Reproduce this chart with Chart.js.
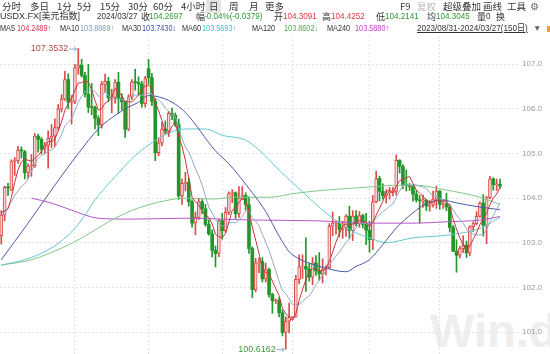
<!DOCTYPE html>
<html><head><meta charset="utf-8">
<script src="https://cdn.jsdelivr.net/npm/chart.js@4.4.1/dist/chart.umd.min.js"></script>
<style>
html,body{margin:0;padding:0;background:#fff;width:550px;height:354px;overflow:hidden;}
.t{position:absolute;white-space:nowrap;font-family:"Liberation Sans","Noto Sans CJK SC",sans-serif;font-size:8px;line-height:11px;color:#333;z-index:3}
.c{font-size:9px;font-family:"Noto Sans CJK SC",sans-serif}
.n{font-size:9px;transform:scaleX(0.9);transform-origin:0 50%}
.r1{top:0;font-size:9.5px;font-family:"Noto Sans CJK SC",sans-serif;line-height:13px}
.r2{top:11px}
.r3{top:23px;font-size:8.5px;transform:scaleX(0.86);transform-origin:0 50%}
.red{color:#dd3b3b}.grn{color:#2f9a35}
#sel{position:absolute;left:206px;top:0;width:15px;height:13px;background:#e3e3e3;z-index:2}
#wm{position:absolute;left:430px;top:303px;font:bold 47px "Liberation Sans",sans-serif;color:#eeeeee;z-index:0}
#cv{position:absolute;left:0;top:0;z-index:1}
</style></head><body>
<div id="sel"></div>
<div class="t r1" style="left:2px">分时</div>
<div class="t r1" style="left:30px">多日</div>
<div class="t r1" style="left:57px">1分</div>
<div class="t r1" style="left:77px">5分</div>
<div class="t r1" style="left:100px">15分</div>
<div class="t r1" style="left:128px">30分</div>
<div class="t r1" style="left:153px">60分</div>
<div class="t r1" style="left:181px">4小时</div>
<div class="t r1" style="left:209px">日</div>
<div class="t r1" style="left:229px">周</div>
<div class="t r1" style="left:249px">月</div>
<div class="t r1" style="left:265px">更多</div>
<div class="t r1" style="left:400px">F9</div>
<div class="t r1" style="left:417px;color:#bbb">复权</div>
<div class="t r1" style="left:443px">超级叠加</div>
<div class="t r1" style="left:483px">画线</div>
<div class="t r1" style="left:507px">工具</div>
<div class="t r1" style="left:530px;color:#666">⚙</div>

<div class="t r2" style="left:0px;font-size:9px">USDX.FX[美元指数]</div>
<div class="t r2 n" style="left:97px">2024/03/27</div>
<div class="t r2 c" style="left:141px">收</div>
<div class="t r2 n grn" style="left:149px">104.2697</div>
<div class="t r2 c" style="left:196px">幅</div>
<div class="t r2 n grn" style="left:204px">-0.04%(-0.0379)</div>
<div class="t r2 c" style="left:274px">开</div>
<div class="t r2 n red" style="left:283px">104.3091</div>
<div class="t r2 c" style="left:322px">高</div>
<div class="t r2 n red" style="left:331px">104.4252</div>
<div class="t r2 c" style="left:376px">低</div>
<div class="t r2 n grn" style="left:385px">104.2141</div>
<div class="t r2 c" style="left:427px">均</div>
<div class="t r2 n grn" style="left:436px">104.3045</div>
<div class="t r2 c" style="left:477px">量</div>
<div class="t r2 n" style="left:486px">0</div>
<div class="t r2 c" style="left:496px">换</div>

<div class="t r3" style="left:0px">MA5</div>
<div class="t r3" style="left:17px;color:#cc3350">104.2489↑</div>
<div class="t r3" style="left:60px">MA10</div>
<div class="t r3" style="left:80px;color:#7e9cc4">103.8869↑</div>
<div class="t r3" style="left:122px">MA30</div>
<div class="t r3" style="left:142px;color:#3d4fa6">103.7430↓</div>
<div class="t r3" style="left:182px">MA60</div>
<div class="t r3" style="left:202px;color:#3bbcc6">103.5693↑</div>
<div class="t r3" style="left:252px">MA120</div>
<div class="t r3" style="left:284px;color:#4cab4c">103.8602↓</div>
<div class="t r3" style="left:327px">MA240</div>
<div class="t r3" style="left:355px;color:#c040c4">103.5880↑</div>
<div class="t r3" style="left:417px;text-decoration:underline;font-size:9px;transform:scaleX(0.9)">2023/08/31-2024/03/27(150日)</div>
<div class="t r3" style="left:533px;color:#666;transform:none">▼</div>
<div style="position:absolute;left:547px;top:26px;width:3px;height:6px;background:#f0a030;z-index:3"></div>

<div id="wm">Win.d</div>
<canvas id="cv" width="550" height="354"></canvas>
<script>
// ---- data (USDX.FX daily, 2023/08/31 - 2024/03/27) ----
const opens = [103.16,103.62,104.24,104.18,104.82,104.84,105.08,105.04,104.57,104.72,
104.73,105.39,105.32,105.10,105.18,105.34,105.39,105.58,106.00,106.22,
106.66,106.15,106.17,106.92,106.98,106.75,106.33,106.04,106.03,105.79,
105.64,106.55,106.62,106.25,106.26,106.60,106.24,106.16,105.54,106.27,
106.60,106.59,106.56,106.12,106.90,106.70,106.17,105.02,105.24,105.55,
105.50,105.90,105.86,105.65,104.05,104.33,104.35,103.92,103.44,103.57,
103.92,103.76,103.41,103.20,102.83,102.76,103.50,103.27,103.68,104.10,
104.12,103.65,104.00,104.06,103.85,102.87,101.95,102.55,102.58,102.19,
102.40,101.84,101.70,101.71,101.43,100.99,101.24,101.33,101.33,102.18,
102.46,102.47,102.41,102.23,102.55,102.37,102.30,102.40,102.44,103.37,
103.44,103.44,103.30,103.33,103.60,103.27,103.60,103.43,103.61,103.41,
103.28,103.07,103.92,104.44,104.15,104.06,104.12,104.12,104.15,104.85,
104.71,104.29,104.28,104.26,104.09,103.96,103.94,103.95,103.82,103.85,
103.98,104.16,103.86,103.86,103.80,103.34,102.81,102.72,102.87,102.95,
102.77,103.36,103.43,103.59,103.89,103.39,104.01,104.43,104.30,104.3091];
const highs = [103.72,104.27,104.33,104.86,104.91,105.16,105.15,105.07,104.77,104.98,
105.45,105.43,105.36,105.25,105.51,105.65,105.78,106.10,106.32,106.84,
106.79,106.30,107.00,107.3532,107.11,106.82,107.00,106.57,106.07,105.85,
106.62,106.78,106.71,106.44,106.66,106.82,106.34,106.17,106.32,106.66,
106.89,106.72,106.62,106.73,107.11,106.80,106.23,105.35,105.70,105.73,
105.94,106.02,105.91,105.77,104.43,104.58,104.45,103.96,103.69,104.00,
103.97,103.86,103.51,103.29,102.93,103.53,103.66,103.79,104.14,104.19,
104.14,104.26,104.26,104.12,104.03,102.91,102.65,102.66,102.67,102.54,
102.43,101.87,101.74,101.77,101.50,101.34,101.65,101.35,102.27,102.73,
102.73,103.11,102.54,102.67,102.71,102.78,102.64,102.49,103.43,103.69,
103.49,103.59,103.48,103.63,103.82,103.72,103.72,103.70,103.64,103.66,
103.48,104.06,104.60,104.49,104.32,104.19,104.24,104.24,104.97,104.86,
104.75,104.63,104.33,104.28,104.17,104.06,104.07,103.98,103.95,104.16,
104.27,104.17,103.96,104.11,103.86,103.39,103.07,102.92,103.16,103.04,
103.38,103.47,103.70,103.92,104.08,104.04,104.49,104.46,104.43,104.4252];
const lows = [102.97,103.49,104.06,104.17,104.51,104.78,104.90,104.43,104.44,104.49,
104.69,105.03,104.99,104.99,104.67,105.13,105.16,105.52,105.93,106.19,
106.00,105.66,106.12,106.78,106.71,106.27,105.92,105.87,105.55,105.40,
105.57,106.38,106.16,105.91,106.13,105.90,105.97,105.36,105.51,106.21,
106.42,106.32,106.04,106.04,106.55,106.07,104.84,104.95,105.17,105.44,
105.38,105.76,105.60,103.97,103.86,104.16,103.82,103.35,103.18,103.52,
103.65,103.37,103.17,102.68,102.46,102.69,103.08,103.23,103.63,103.90,
103.54,103.57,103.97,103.73,102.76,101.77,101.90,102.33,102.12,102.12,
101.78,101.42,101.64,101.34,100.91,100.6162,100.98,101.28,101.33,102.08,
102.20,101.91,102.14,102.06,102.27,102.16,102.10,102.28,102.42,103.16,
103.19,103.13,103.10,103.14,103.09,103.05,103.38,103.35,103.33,102.96,
102.79,102.85,103.90,103.94,103.98,103.89,103.98,104.05,104.07,104.56,
104.21,104.16,104.17,103.93,103.91,103.44,103.79,103.72,103.71,103.80,
103.77,103.75,103.77,103.72,103.24,102.80,102.34,102.66,102.78,102.67,
102.71,103.25,103.40,103.57,103.15,102.98,103.98,104.18,104.17,104.2141];
const closes = [103.62,104.24,104.23,104.82,104.84,105.08,105.06,104.57,104.72,104.73,
105.39,105.32,105.10,105.18,105.34,105.39,105.58,106.00,106.22,106.66,
106.15,106.17,106.92,106.98,106.75,106.33,106.04,106.03,105.79,105.64,
106.55,106.62,106.25,106.26,106.60,106.24,106.16,105.54,106.27,106.60,
106.59,106.56,106.12,106.68,106.70,106.17,105.02,105.24,105.55,105.50,
105.90,105.86,105.65,104.05,104.33,104.35,103.92,103.44,103.57,103.92,
103.76,103.41,103.20,102.83,102.76,103.50,103.27,103.68,104.10,104.12,
103.65,104.00,104.06,103.85,102.87,101.95,102.55,102.58,102.19,102.40,
101.84,101.70,101.71,101.43,100.99,101.24,101.33,101.33,102.18,102.46,
102.47,102.41,102.23,102.55,102.37,102.30,102.40,102.44,103.37,103.44,
103.44,103.30,103.33,103.60,103.27,103.60,103.43,103.61,103.41,103.28,
103.07,103.92,104.44,104.15,104.06,104.12,104.12,104.15,104.85,104.71,
104.29,104.28,104.26,104.09,103.96,103.94,103.95,103.82,103.85,103.98,
104.16,103.86,103.86,103.80,103.34,102.81,102.72,102.87,102.95,102.77,
103.36,103.43,103.59,103.89,103.39,104.01,104.43,104.30,104.31,104.2697];

// moving averages
const ma5 = [103.68,103.71,103.76,104.01,104.35,104.64,104.81,104.87,104.85,104.83,
104.89,104.95,105.05,105.14,105.27,105.27,105.32,105.50,105.71,105.97,
106.12,106.24,106.42,106.58,106.59,106.63,106.60,106.43,106.19,105.97,
106.01,106.13,106.17,106.26,106.46,106.39,106.30,106.16,106.16,106.16,
106.23,106.31,106.43,106.51,106.53,106.45,106.14,105.96,105.74,105.50,
105.44,105.61,105.69,105.39,105.16,104.85,104.46,104.02,103.92,103.84,
103.72,103.62,103.57,103.42,103.19,103.14,103.11,103.21,103.46,103.73,
103.76,103.91,103.99,103.94,103.69,103.35,103.06,102.76,102.43,102.33,
102.31,102.14,101.97,101.82,101.53,101.41,101.34,101.26,101.41,101.71,
101.95,102.17,102.35,102.42,102.41,102.37,102.37,102.41,102.58,102.79,
103.02,103.20,103.38,103.42,103.39,103.42,103.45,103.50,103.46,103.47,
103.36,103.46,103.62,103.77,103.93,104.14,104.18,104.12,104.26,104.39,
104.42,104.46,104.48,104.33,104.18,104.11,104.04,103.95,103.90,103.91,
103.95,103.93,103.94,103.93,103.80,103.53,103.31,103.11,102.94,102.82,
102.93,103.08,103.22,103.41,103.53,103.66,103.86,104.00,104.09,104.2489];
const ma10 = [103.61,103.69,103.79,103.91,104.06,104.16,104.26,104.32,104.43,104.59,
104.77,104.88,104.96,105.00,105.05,105.08,105.14,105.28,105.43,105.62,
105.70,105.78,105.96,106.15,106.28,106.38,106.42,106.43,106.39,106.28,
106.32,106.37,106.30,106.23,106.22,106.20,106.22,106.17,106.21,106.31,
106.31,106.31,106.30,106.34,106.35,106.34,106.23,106.20,106.13,106.02,
105.95,105.88,105.83,105.57,105.33,105.15,105.04,104.86,104.66,104.50,
104.29,104.04,103.80,103.67,103.52,103.43,103.37,103.39,103.44,103.46,
103.45,103.51,103.60,103.70,103.71,103.56,103.49,103.38,103.19,103.01,
102.83,102.60,102.37,102.13,101.93,101.86,101.74,101.62,101.62,101.62,
101.68,101.76,101.81,101.92,102.06,102.16,102.27,102.38,102.50,102.60,
102.70,102.79,102.90,103.00,103.09,103.22,103.33,103.44,103.44,103.43,
103.39,103.46,103.56,103.62,103.70,103.75,103.82,103.87,104.02,104.16,
104.28,104.32,104.30,104.30,104.29,104.27,104.25,104.22,104.12,104.05,
104.03,103.99,103.95,103.92,103.86,103.74,103.62,103.53,103.44,103.31,
103.23,103.20,103.17,103.18,103.18,103.30,103.47,103.61,103.75,103.8869];
const ma30Idx = [0,8,16,23,29,37,41,44,47,51,55,64,68,75,79,83,86,89,91,97,103,106,110,114,118,123,127,132,135,139,143,149];
const ma30Val = [102.62,103.44,104.29,105.00,105.55,106.00,106.15,106.30,106.27,106.15,105.92,105.06,104.77,104.12,103.70,103.15,102.80,102.64,102.57,102.43,102.35,102.47,102.62,102.96,103.33,103.67,103.88,103.96,103.91,103.85,103.80,103.743];
const ma60Idx = [0,7,14,20,24,28,33,42,55,61,66,73,77,83,90,97,102,106,110,115,123,133,143,149];
const ma60Val = [102.50,102.62,102.84,103.17,103.51,103.96,104.40,105.08,105.55,105.55,105.41,105.30,105.08,104.63,104.14,103.67,103.40,103.22,103.11,103.00,103.11,103.17,103.32,103.5693];
const ma120Idx = [0,9,20,27,34,41,47,55,63,70,80,88,97,110,119,124,133,138,143,149];
const ma120Val = [102.50,102.62,102.95,103.24,103.55,103.78,103.91,104.00,103.98,104.02,104.02,104.11,104.18,104.25,104.29,104.29,104.18,104.11,104.02,103.8602];
const ma240Idx = [9,15,21,29,39,55,75,95,110,124,133,143,149];
const ma240Val = [104.00,103.89,103.73,103.55,103.53,103.55,103.51,103.49,103.44,103.44,103.47,103.51,103.588];
const yTicks = [101,102,103,104,105,106,107];
const monthStarts = [22,44,66,87,110,131];

const UP='#dc4a4a', DN='#23962a';
const idx = closes.map((_,i)=>i);
const up = i => closes[i] >= opens[i];
const series = (I,V)=>I.map((x,k)=>({x:x,y:V[k]}));

const bodies = {type:'bar',order:2,grouped:false,barThickness:3,minBarLength:1,
  data: idx.map(i=>({x:i,y:[opens[i],closes[i]]})),
  backgroundColor: idx.map(i=>up(i)?'#f7d6d6':DN),
  borderColor: idx.map(i=>up(i)?UP:DN),
  borderWidth: idx.map(i=>up(i)?1:0),
  borderSkipped:false};
const wicks = {type:'bar',order:3,grouped:false,barThickness:1,
  data: idx.map(i=>({x:i,y:[lows[i],highs[i]]})),
  backgroundColor: idx.map(i=>up(i)?UP:DN), borderWidth:0};
const line = (data,color,smooth)=>({type:'line',order:1,data:data,borderColor:color,borderWidth:1,
  pointRadius:0,fill:false,cubicInterpolationMode:smooth?'monotone':'default',tension:0});

const marks = {id:'marks',afterDatasetsDraw(chart){
  const {ctx,scales:{x,y}} = chart;
  const hiI = highs.indexOf(Math.max(...highs)), loI = lows.indexOf(Math.min(...lows));
  ctx.save();
  ctx.font='9px "Liberation Sans", sans-serif';ctx.textBaseline='middle';ctx.textAlign='right';
  const draw=(i,v,col)=>{
    const px=x.getPixelForValue(i), py=y.getPixelForValue(v);
    ctx.fillStyle=col; ctx.fillText(v.toFixed(4),px-10,py);
    ctx.strokeStyle='#8fb0c8';ctx.lineWidth=1;ctx.beginPath();
    ctx.moveTo(px-9.5,py+0.5);ctx.lineTo(px-1.5,py+0.5);ctx.stroke();
    ctx.beginPath();ctx.moveTo(px-4,py-1.5);ctx.lineTo(px-1.5,py+0.5);ctx.lineTo(px-4,py+2.5);ctx.stroke();
  };
  draw(hiI,highs[hiI],'#b5474a');
  draw(loI,lows[loI],'#3d9a3d');
  ctx.restore();
}};

new Chart(document.getElementById('cv'),{
  type:'bar',
  data:{datasets:[
    line(ma5.map((v,i)=>({x:i,y:v})),'#c9353f',false),
    line(ma10.map((v,i)=>({x:i,y:v})),'#93a9c6',false),
    line(series(ma30Idx,ma30Val),'#4b5aa8',true),
    line(series(ma60Idx,ma60Val),'#62c9cf',true),
    line(series(ma120Idx,ma120Val),'#86c686',true),
    line(series(ma240Idx,ma240Val),'#b655c8',true),
    bodies, wicks]},
  options:{responsive:false,animation:false,events:[],
    layout:{padding:{top:36,left:0,right:0,bottom:0}},
    plugins:{legend:{display:false},tooltip:{enabled:false}},
    scales:{
      x:{type:'linear',min:-0.39,max:154.38,offset:false,
        grid:{color:'#e2e2e2',drawTicks:false,offset:false},border:{display:false,dash:[2,2]},
        ticks:{display:false},
        afterBuildTicks:s=>{s.ticks=monthStarts.map(v=>({value:v}));},
        afterFit:s=>{s.height=0;s.paddingLeft=0;s.paddingRight=0;}},
      y:{type:'linear',position:'right',min:100.507,max:107.634,
        grid:{color:'#e2e2e2',drawTicks:false},border:{display:false,dash:[2,2]},
        ticks:{color:'#9a9a9a',padding:4,font:{family:'"Liberation Sans", sans-serif',size:8},callback:v=>v.toFixed(1)},
        afterBuildTicks:s=>{s.ticks=yTicks.map(v=>({value:v}));},
        afterFit:s=>{s.width=32;s.paddingTop=0;s.paddingBottom=0;}}
    }},
  plugins:[marks]
});
</script>
</body></html>
